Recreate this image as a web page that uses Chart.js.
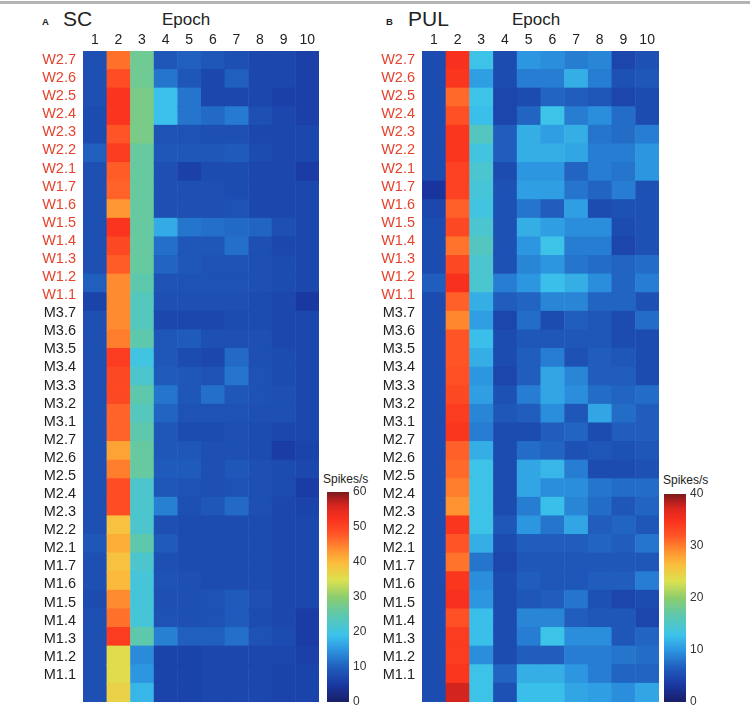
<!DOCTYPE html>
<html>
<head>
<meta charset="utf-8">
<script src="https://cdn.jsdelivr.net/npm/chart.js@4.4.1/dist/chart.umd.min.js"></script>
<style>
  body { margin: 0; background: #fff; font-family: "Liberation Sans", Arial, sans-serif; }
  #page { position: relative; width: 750px; height: 709px; overflow: hidden; }
  .rule { position: absolute; left: 0; top: 1px; width: 750px; height: 3px; background: #b4b4b4; }
  .txt { position: absolute; white-space: nowrap; color: #222; line-height: 1; }
  .box { position: absolute; }
  .box canvas { display: block; }
</style>
</head>
<body>
<div id="page">
  <div class="rule"></div>

  <div class="txt" style="left:42px; top:17px; font-size:9.5px; font-weight:bold;">A</div>
  <div class="txt" style="left:63px; top:8px; font-size:21px;">SC</div>
  <div class="txt" style="left:162px; top:11px; font-size:17px;">Epoch</div>

  <div class="txt" style="left:386px; top:17px; font-size:9.5px; font-weight:bold;">B</div>
  <div class="txt" style="left:408px; top:8px; font-size:21px;">PUL</div>
  <div class="txt" style="left:512px; top:11px; font-size:17px;">Epoch</div>

  <div class="txt" style="left:323px; top:473px; font-size:12px;">Spikes/s</div>
  <div class="txt" style="left:663px; top:474px; font-size:12px;">Spikes/s</div>

  <div class="box" style="left:0; top:0;"><canvas id="scMap" width="322" height="709"></canvas></div>
  <div class="box" style="left:340px; top:0;"><canvas id="pulMap" width="322" height="709"></canvas></div>
  <div class="box" style="left:327px; top:470px;"><canvas id="scBar" width="60" height="239"></canvas></div>
  <div class="box" style="left:664px; top:470px;"><canvas id="pulBar" width="60" height="239"></canvas></div>
</div>

<script>
// Epochs along the top, recording sites down the side
const epochLabels = [1, 2, 3, 4, 5, 6, 7, 8, 9, 10];
const rowLabels = [
  'W2.7', 'W2.6', 'W2.5', 'W2.4', 'W2.3', 'W2.2', 'W2.1',
  'W1.7', 'W1.6', 'W1.5', 'W1.4', 'W1.3', 'W1.2', 'W1.1',
  'M3.7', 'M3.6', 'M3.5', 'M3.4', 'M3.3', 'M3.2', 'M3.1',
  'M2.7', 'M2.6', 'M2.5', 'M2.4', 'M2.3', 'M2.2', 'M2.1',
  'M1.7', 'M1.6', 'M1.5', 'M1.4', 'M1.3', 'M1.2', 'M1.1'
];
// tick labels sit on a slightly tighter grid than the rows (one blank slot at the end)
const rowTickLabels = rowLabels.concat(['']);

// Colorbar ticks
const scTicks = [0, 10, 20, 30, 40, 50, 60];
const pulTicks = [0, 10, 20, 30, 40];
const scMax = 60;
const pulMax = 40;

// Spikes/s, one row per site, one value per epoch
const scRates = [
  [8, 46, 27, 9, 10, 9, 8, 7, 7, 6],
  [8, 49, 27, 12, 9, 7, 10, 7, 7, 6],
  [8, 52, 28, 19, 12, 7, 7, 7, 6, 6],
  [7.5, 52, 28, 19, 12, 11, 12.5, 8, 7, 6],
  [7.5, 48, 28, 8.5, 8.5, 8, 8, 7, 7, 7],
  [10, 51, 26, 9, 9, 9, 9.5, 7.5, 7, 7],
  [8, 47.5, 26, 8, 6, 7.5, 7.5, 7, 7, 5.5],
  [8, 47, 26, 8, 8, 8, 7.5, 7, 7, 7],
  [8, 43, 26, 8, 8, 8, 8.5, 7, 7, 7],
  [8, 52, 26, 17, 12, 11.5, 11, 10.5, 8, 7],
  [8, 49.5, 26, 11.5, 9, 9, 11.5, 8, 7, 7],
  [8, 47.5, 26, 10.5, 9, 8.5, 8.5, 8, 7.5, 7],
  [10, 44, 25, 8.5, 8.5, 8.5, 8.5, 8, 7.5, 7],
  [6.5, 44, 23.5, 8, 8, 8, 8, 7.5, 7, 5],
  [8, 44, 23.5, 7, 7, 7, 7.5, 7.5, 7, 7],
  [8, 45, 25, 9, 9.5, 8, 8, 8, 7, 7],
  [8, 51, 20, 9, 7.5, 7, 11, 8, 7.5, 7],
  [8, 49.5, 22, 9.5, 9, 8.5, 12, 8.5, 7.5, 7],
  [8, 49.5, 25, 12, 9, 11.5, 9, 8.5, 8, 7],
  [8, 47, 23.5, 10.5, 8.5, 8.5, 8.5, 8, 8, 7],
  [8, 47, 25, 9, 7.5, 7.5, 8, 7.5, 7, 7],
  [8, 42, 26, 9, 9, 8, 8, 7.5, 5.5, 6.5],
  [8, 45, 26, 9.5, 9.5, 8, 9, 8, 7.5, 7],
  [8, 49, 22, 9, 8.5, 8, 8.5, 8, 7.5, 5.5],
  [8, 49, 22, 13, 8, 9, 11, 8, 7, 6.5],
  [8, 39, 22, 8, 7.5, 7.5, 7.5, 7.5, 7, 7],
  [9, 41, 25, 9.5, 7.5, 7.5, 7.5, 7.5, 7, 7],
  [8, 39, 22, 8, 7.5, 7.5, 7.5, 7.5, 7, 7],
  [8, 40, 21, 8.5, 8, 7.5, 7.5, 7.5, 7, 7],
  [7.5, 44, 21, 8, 8, 8.5, 9.5, 8, 7, 7],
  [8, 46, 21, 8.5, 8, 8.5, 9.5, 7.5, 7, 5.5],
  [8, 51, 25, 13, 10, 10, 11.5, 8.5, 7.5, 5.5],
  [8, 35.5, 14, 6.5, 6.5, 7, 7, 7, 7, 6],
  [8, 35.5, 15, 6.5, 6.5, 7, 7, 7, 6.5, 6.5],
  [8, 37, 18, 6.5, 6.5, 7, 7, 7, 6.5, 6.5]
];

const pulRates = [
  [5, 35, 13, 5, 10, 9.5, 8.5, 9, 4.5, 5.5],
  [5, 34.5, 10.5, 5, 8.5, 8.5, 11.5, 8.5, 5.5, 6],
  [5, 31, 13, 4.5, 5, 7, 6.5, 6, 4.5, 5],
  [5, 32.5, 12.5, 4.5, 7, 13, 8.5, 9.5, 7.5, 5],
  [5, 34.5, 15.5, 6.5, 11.5, 10.5, 11.5, 8, 7.5, 8.5],
  [5, 34.5, 13.5, 6.5, 11.5, 11.5, 11, 8.5, 8.5, 10],
  [5, 33.5, 14.5, 5, 10, 10, 7, 8.5, 8, 10],
  [3, 33.5, 14, 5.5, 10.5, 10.5, 8, 7, 8.5, 5.5],
  [4.5, 31.5, 13.5, 5.5, 8, 6.5, 10.5, 5, 5.5, 5.5],
  [5, 33, 14.5, 5.5, 11.5, 10.5, 9.5, 9.5, 5, 5.5],
  [5, 30.5, 15.5, 5.5, 10, 13, 8.5, 8.5, 4.5, 5.5],
  [5, 33, 14.5, 5.5, 9, 10, 8, 7.5, 7, 7.5],
  [6.5, 35, 14.5, 8.5, 10, 12.5, 11.5, 9.5, 7, 8.5],
  [5, 31.5, 11.5, 6.5, 7, 9, 9, 7, 7, 5.5],
  [5, 29.5, 10.5, 4.5, 7.5, 5, 6.5, 6, 5, 7.5],
  [5, 32, 12.5, 5, 6, 6, 6, 6, 5, 5],
  [5, 32, 11.5, 5, 6.5, 8.5, 5.5, 6.5, 6, 5],
  [5, 32.5, 10, 4.5, 6.5, 11, 9, 6.5, 6.5, 5],
  [5, 33, 10.5, 5.5, 8.5, 11, 9.5, 7.5, 7, 7.5],
  [5, 34, 9, 6, 6.5, 9.5, 6, 11, 7.5, 6.5],
  [5, 34.5, 8.5, 5, 5, 6.5, 7, 5, 6.5, 6.5],
  [5, 31.5, 11.5, 5, 7.5, 7, 5.5, 6, 5.5, 6],
  [5, 31, 13, 5, 11, 12, 8.5, 5, 5, 5.5],
  [5, 30, 13, 5, 11, 9.5, 9.5, 8, 7.5, 7.5],
  [5, 29, 13, 5, 8.5, 12.5, 9, 7.5, 6, 7],
  [5, 34.5, 13, 6, 10, 8, 11, 6.5, 7, 6],
  [5, 32, 11.5, 5, 6.5, 6.5, 6.5, 7, 6.5, 8],
  [5, 30.5, 8, 4.5, 6, 6, 6, 6, 6, 6],
  [5, 34.5, 9.5, 5, 6.5, 6, 6, 6.5, 6.5, 8.5],
  [5, 35, 10, 5, 6, 6.5, 8, 5.5, 4.5, 5],
  [5, 32.5, 12.5, 5, 9, 9, 6.5, 6, 6, 4.5],
  [5, 34, 12.5, 5, 8.5, 13, 9.5, 9.5, 6, 7],
  [5, 34, 9.5, 5, 6.5, 6.5, 8.5, 8.5, 8, 7.5],
  [5, 34.5, 13, 7, 11.5, 11.5, 10, 8.5, 7, 7],
  [5, 37.5, 13, 5.5, 12.5, 12.5, 11, 10.5, 9.5, 11]
];

// softened jet colormap
const jetStops = [
  [0.00, [25, 30, 105]],
  [0.08, [25, 55, 160]],
  [0.167, [32, 95, 190]],
  [0.25, [45, 150, 225]],
  [0.32, [60, 195, 235]],
  [0.42, [95, 200, 170]],
  [0.50, [140, 205, 110]],
  [0.58, [220, 225, 80]],
  [0.66, [250, 190, 60]],
  [0.72, [255, 150, 50]],
  [0.80, [255, 85, 38]],
  [0.87, [250, 50, 30]],
  [0.93, [220, 38, 30]],
  [0.97, [170, 30, 30]],
  [1.00, [120, 28, 28]]
];

const redLabel = '#e6432e';
const darkLabel = '#222';
const fontFamily = '"Liberation Sans", Arial, sans-serif';
Chart.defaults.font.family = fontFamily;

function jetColor(t) {
  t = Math.max(0, Math.min(1, t));
  for (let i = 1; i < jetStops.length; i++) {
    const [t1, c1] = jetStops[i];
    const [t0, c0] = jetStops[i - 1];
    if (t <= t1) {
      const f = (t - t0) / (t1 - t0);
      const c = c0.map((v, k) => Math.round(v + (c1[k] - v) * f));
      return `rgb(${c[0]},${c[1]},${c[2]})`;
    }
  }
  return 'rgb(120,28,28)';
}

// no extra room for half-labels at the ends of a vertical axis
function noEndPadding(axis) {
  axis.paddingTop = 0;
  axis.paddingBottom = 0;
}

function drawHeatmap(id, rates, maxRate, labelWidth) {
  // later columns are drawn on top, so let each cell reach a hair past its edge to hide seams
  const datasets = epochLabels.map((ep, c) => ({
    data: rates.map((row, r) => ({ x: [ep - 0.5, ep + 0.52], y: rowLabels[r] })),
    backgroundColor: rates.map(row => jetColor(row[c] / maxRate)),
    borderWidth: 0,
    grouped: false,
    categoryPercentage: 1,
    barPercentage: 1.06,
    xAxisID: 'x',
    yAxisID: 'y',
    order: -c
  }));

  new Chart(document.getElementById(id), {
    type: 'bar',
    data: { labels: rowLabels, datasets: datasets },
    options: {
      indexAxis: 'y',
      responsive: false,
      animation: false,
      events: [],
      layout: { padding: { left: 0, right: 3, top: 0, bottom: 7 } },
      plugins: { legend: { display: false }, tooltip: { enabled: false } },
      scales: {
        x: {
          type: 'linear',
          position: 'top',
          min: 0.5,
          max: 10.5,
          grid: { display: false, drawTicks: false },
          border: { display: false },
          afterBuildTicks: axis => { axis.ticks = epochLabels.map(v => ({ value: v })); },
          afterFit: axis => { axis.height = 51; },
          ticks: { padding: 2, color: darkLabel, font: { size: 14 }, autoSkip: false, maxRotation: 0 }
        },
        y: {
          type: 'category',
          labels: rowLabels,
          display: false,
          offset: true
        },
        rows: {
          type: 'category',
          position: 'left',
          labels: rowTickLabels,
          offset: true,
          grid: { display: false, drawTicks: false },
          border: { display: false },
          afterFit: axis => { axis.width = labelWidth; noEndPadding(axis); },
          ticks: {
            padding: 7,
            autoSkip: false,
            font: { size: 14.5 },
            color: ctx => (rowTickLabels[ctx.index] || '').startsWith('W') ? redLabel : darkLabel
          }
        }
      }
    }
  });
}

function drawColorbar(id, maxRate, ticks, padTop) {
  new Chart(document.getElementById(id), {
    type: 'bar',
    data: {
      labels: [''],
      datasets: [{
        data: [[0, maxRate]],
        backgroundColor: ctx => {
          const area = ctx.chart.chartArea;
          if (!area) return '#888';
          const g = ctx.chart.ctx.createLinearGradient(0, area.bottom, 0, area.top);
          jetStops.forEach(([t, c]) => g.addColorStop(t, `rgb(${c[0]},${c[1]},${c[2]})`));
          return g;
        },
        borderWidth: 0,
        categoryPercentage: 1,
        barPercentage: 1
      }]
    },
    options: {
      responsive: false,
      animation: false,
      events: [],
      layout: { padding: { left: 0, right: 0, top: padTop, bottom: 7 } },
      plugins: { legend: { display: false }, tooltip: { enabled: false } },
      scales: {
        x: { display: false },
        y: {
          position: 'right',
          min: 0,
          max: maxRate,
          grid: { display: false, drawTicks: false },
          border: { display: false },
          afterBuildTicks: axis => { axis.ticks = ticks.map(v => ({ value: v })); },
          afterFit: axis => { axis.width = 38; noEndPadding(axis); },
          ticks: { padding: 4, color: '#333', font: { size: 12 } }
        }
      }
    }
  });
}

drawHeatmap('scMap', scRates, scMax, 83);
drawHeatmap('pulMap', pulRates, pulMax, 82);
drawColorbar('scBar', scMax, scTicks, 22);
drawColorbar('pulBar', pulMax, pulTicks, 24);
</script>
</body>
</html>
